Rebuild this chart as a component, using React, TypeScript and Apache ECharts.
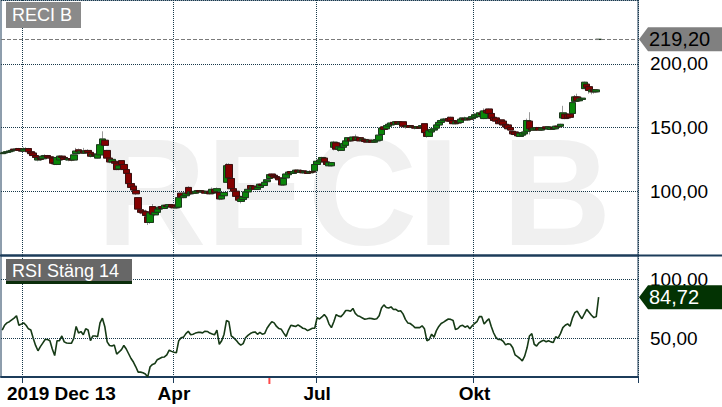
import React, { useEffect, useRef } from 'react';
import * as echarts from 'echarts';

// trading days start here; the axis keeps some empty slots on the right
const START_DATE = '2019-12-13';
const SLOT_COUNT = 267;
const HOLIDAYS = [
  '2019-12-24', '2019-12-25', '2019-12-26', '2019-12-31', '2020-01-01', '2020-01-06',
  '2020-04-10', '2020-04-13', '2020-05-01', '2020-05-21', '2020-06-19',
  '2020-12-24', '2020-12-25', '2020-12-31', '2021-01-01',
];
const QUARTER_MONTHS = ['01', '04', '07', '10'];
const MONTH_LABELS: Record<string, string> = { '04': 'Apr', '07': 'Jul', '10': 'Okt' };
const START_LABEL = '2019 Dec 13';
const EVENT_DATE = '2020-06-02';

const TICKER = 'RECI B';
const RSI_TITLE = 'RSI Stäng 14';
const PRICE_TICKS = [100, 150, 200];
const RSI_LEVELS = [50, 100];
const LAST_PRICE = 219.2;
const LAST_RSI = 84.72;

// [open, close, low, high]
const PRICE_OHLC: number[][] = [
  [129.5, 130, 128.5, 131], [130, 130.5, 129.5, 131.5], [130.5, 131, 130, 132], [131, 131.5, 130.5, 132.5],
  [131.5, 132, 131, 133], [133, 132.5, 131.5, 133.5], [132.5, 133, 132, 134], [133.5, 132, 131.5, 134],
  [132, 131.5, 131, 133], [131.5, 133, 131, 134.5], [133, 133.5, 132.5, 134.5], [133.5, 131, 130.5, 134],
  [131, 129.5, 128.5, 131.5], [130, 128, 127.5, 130.5], [128, 126.5, 125.5, 128.5], [124.5, 126, 123.5, 127.5],
  [126, 125, 124, 127.5], [125.5, 127.5, 125, 128.5], [127, 128, 126.5, 129], [128, 126.5, 126, 128.5],
  [127, 126, 125, 128], [126, 122, 121, 126.5], [122.5, 121.5, 120.5, 124], [121, 126.5, 120.5, 127],
  [124.5, 127.5, 124, 128], [127.5, 126.5, 125.5, 128], [126.5, 125, 124.5, 127], [125.5, 125, 124, 126.5],
  [124.5, 125.5, 123.5, 126], [125.5, 124.5, 123.5, 126], [124.5, 128.5, 124, 129], [129.5, 131.5, 129, 134],
  [132.5, 131, 130.5, 133.5], [130, 131.5, 129.5, 132], [131.5, 130, 129.5, 134], [130, 131.5, 129.5, 132.5],
  [132, 130.5, 128, 133], [130.5, 127.5, 126.5, 131], [127.5, 129, 127, 129.5], [129, 128, 127, 130],
  [126, 129, 125.5, 129.5], [128.5, 136.5, 128, 137.5], [137, 141, 136, 147], [140, 136, 135.5, 141],
  [132, 126, 125, 132.5], [126, 123, 122, 126.5], [123, 125, 122, 125.5], [123.5, 122, 121, 124],
  [122, 117, 116.5, 122.5], [117.5, 120, 116.5, 121], [124, 121, 120, 124.5], [121, 117, 116, 123],
  [117, 114, 113, 117.5], [114, 106, 105, 114.5], [106, 103, 101, 107], [104, 101, 100, 105],
  [100.5, 98, 97, 101], [95, 86, 85, 95.5], [85.5, 83.5, 82, 86.5], [84.5, 83, 81, 85],
  [84, 81, 80, 85.5], [80, 75.5, 73.5, 81], [75.5, 83, 74.5, 84], [88, 82, 81.5, 90],
  [81.5, 83.5, 80.5, 84.5], [83.5, 86, 83, 87], [86, 87.5, 85.5, 88], [88, 86.5, 85.5, 88.5],
  [86.5, 89, 86, 89.5], [89, 88, 87, 89.5], [88, 89.5, 87.5, 90], [89.5, 87.5, 86.5, 90],
  [88.5, 87, 86, 89], [87, 87.5, 86.5, 88.5], [87.5, 95, 87, 96], [98.5, 95.5, 94.5, 99],
  [95, 96.5, 94.5, 97], [96.5, 98.5, 96, 99], [103, 98, 97, 104], [98, 99.5, 97, 100.5],
  [99.5, 98.5, 98, 100], [98.5, 100, 98, 101], [99.5, 100.5, 99, 101], [100.5, 99.5, 99, 101],
  [99.5, 100, 98.5, 100.5], [100, 98.5, 98, 100.5], [98.5, 99.5, 98, 100.5], [99.5, 98, 97.5, 100],
  [98.5, 101.5, 98, 103], [101.5, 99, 98.5, 102], [100, 102, 99.5, 103], [99, 94, 93, 99.5],
  [94, 96.5, 93.5, 97], [96.5, 99, 96, 100], [107, 120, 106.5, 122], [121, 110.5, 110, 122],
  [110, 102, 101.5, 110.5], [102, 100, 99, 103], [100, 96, 95, 100.5], [96, 93, 91.5, 96.5],
  [92, 94, 90.5, 95], [93.5, 95.5, 93, 96], [95, 99.5, 94.5, 100], [99.5, 101.5, 99, 102],
  [104.5, 102, 101, 105], [102, 103.5, 101.5, 104], [104, 101.5, 101, 104.5], [101.5, 103, 101, 104],
  [103, 105.5, 102.5, 106], [105.5, 104.5, 104, 106.5], [104.5, 107, 104, 107.5], [107.5, 109, 107, 110],
  [110, 113, 109.5, 113.5], [113.5, 112, 111, 114], [112.5, 111, 110.5, 113], [111.5, 110.5, 110, 112],
  [110.5, 109, 108.5, 111.5], [109.5, 105, 104.5, 110], [105, 110, 104.5, 111], [110.5, 113.5, 110, 114],
  [113, 115, 112.5, 115.5], [115.5, 114, 113.5, 116], [114, 115.5, 113.5, 116], [115, 116.5, 114.5, 117],
  [116.5, 115, 114.5, 117], [115, 116, 114, 117], [116, 114.5, 114, 116.5], [114.5, 115.5, 113.5, 116],
  [115.5, 114, 113.5, 116], [114.5, 115.5, 113.5, 116.5], [115.5, 115, 114, 116], [116, 121, 115.5, 121.5],
  [121, 123.5, 120.5, 124], [123, 124.5, 122.5, 125], [125, 126.5, 124.5, 127], [126, 123, 122.5, 126.5],
  [123, 121, 120.5, 123.5], [120, 122.5, 119.5, 123], [120, 122.5, 119.5, 123], [134.5, 138.5, 132, 139.5],
  [138, 133, 132.5, 138.5], [133, 135, 131, 135.5], [132, 134.5, 131.5, 135], [134.5, 137.5, 134, 138],
  [136, 139.5, 135.5, 140], [139.5, 142, 138.5, 142.5], [141.5, 139.5, 139, 142.5], [140, 142.5, 139.5, 143],
  [142.5, 140, 139.5, 144.5], [140.5, 142, 140, 142.5], [142, 139.5, 139, 142.5], [140, 141, 139.5, 141.5],
  [140.5, 139, 138.5, 141], [139.5, 138.5, 138, 140], [139, 140, 138.5, 140.5], [140, 138.5, 138, 140.5],
  [138.5, 139.5, 138, 140], [139.5, 140.5, 139, 141], [140, 144, 139.5, 144.5], [144.5, 149.5, 144, 151],
  [150.5, 148.5, 148, 152], [149, 151.5, 148.5, 152], [151, 152.5, 150.5, 153], [152, 153.5, 151.5, 154.5],
  [154, 152.5, 152, 155], [152.5, 154.5, 152, 155], [154.5, 153, 152, 155], [153, 154, 152, 154.5],
  [154.5, 151, 150.5, 155], [151.5, 150.5, 149, 152], [150.5, 151.5, 150, 152], [151.5, 150, 149.5, 152],
  [150, 150.5, 149, 151], [150.5, 149.5, 148.5, 151], [149.5, 150.5, 149, 151], [150.5, 149.5, 149, 151],
  [150.5, 151.5, 148, 153], [153, 146, 145.5, 153.5], [146, 143, 142, 146.5], [143, 147.5, 142.5, 148],
  [146.5, 148.5, 146, 149], [148, 149, 147.5, 149.5], [149.5, 152, 149, 152.5], [152, 154, 151.5, 154.5],
  [154, 155.5, 153.5, 156.5], [155.5, 156.5, 155, 157.5], [156, 156.5, 155.5, 157.5], [157, 155, 154.5, 158.5],
  [158, 155, 154.5, 158.5], [155.5, 153, 152.5, 156], [153, 154.5, 152.5, 155], [154.5, 153.5, 152.5, 155.5],
  [154, 156.5, 153.5, 157], [156, 157.5, 155.5, 158], [157, 156, 155.5, 158.5], [156, 157.5, 155.5, 158],
  [157, 156.5, 155.5, 159], [157, 158.5, 156.5, 159], [158, 160, 157.5, 161], [159, 160.5, 158.5, 162],
  [158.5, 161.5, 158, 163], [161, 160, 159, 162.5], [157, 163, 156.5, 165], [163.5, 161.5, 161, 164.5],
  [164.5, 161, 160.5, 165], [161, 157, 156.5, 161.5], [158, 155.5, 155, 158.5], [157.5, 155, 154.5, 158],
  [155.5, 153, 152.5, 156], [156, 153.5, 153, 156.5], [155, 152, 151.5, 155.5], [152.5, 150.5, 150, 153],
  [152, 149, 148.5, 152.5], [150, 148, 147.5, 150.5], [147, 145, 144, 147.5], [146.5, 144.5, 143.5, 147],
  [145.5, 143.5, 143, 146], [143, 145.5, 142.5, 146], [144, 146, 143.5, 146.5], [145, 146.5, 144, 147],
  [147, 155.5, 146.5, 157], [155, 149, 144.5, 162], [149.5, 148, 147.5, 151], [148, 149.5, 147.5, 150],
  [148.5, 150, 148, 150.5], [150, 148, 147.5, 150.5], [148, 149.5, 147.5, 150], [149, 150, 148.5, 150.5],
  [150.5, 149, 148.5, 151], [149, 150.5, 148.5, 151], [148.5, 150, 148, 150.5], [150, 149, 148.5, 150.5],
  [149, 151, 148.5, 151.5], [151, 150.5, 150, 152], [151, 152.5, 150.5, 153], [157.5, 161.5, 157, 167],
  [160.5, 157, 156.5, 161], [160, 157.5, 157, 161], [160.5, 158, 157.5, 161], [161, 169.5, 160.5, 170.5],
  [170.5, 174, 170, 175.5], [174, 171, 170.5, 176.5], [171, 172.5, 170, 173], [172, 173, 171.5, 174],
  [180.5, 185.5, 180, 186], [184, 181.5, 180.5, 184.5], [182, 179, 176.5, 182.5], [178, 179.5, 176, 180],
  [179.5, 178, 176.5, 180], [178, 179.5, 177, 180], [219, 219.2, 219, 219.4],
];

const RSI_14: number[] = [
  57, 61, 63, 64, 65.5, 67, 69, 61, 62, 63, 61, 58, 57, 50, 44, 39.5, 43, 46, 49, 49,
  48, 41, 35.5, 48, 48, 52, 47, 46, 45.8, 45.8, 50, 60, 54.5, 55.7, 53, 58, 57, 48, 52, 52,
  51.4, 63, 67, 60, 47, 44, 43.5, 44.3, 36.7, 38.5, 40.5, 44, 41, 37, 33, 30, 26, 21.5, 21.5, 21,
  20, 17.5, 26, 28, 28.8, 32, 33, 34, 34.3, 36, 40, 39, 38.2, 37.8, 48, 50.5, 51, 54, 56, 53,
  53.5, 54.4, 55, 55, 54.6, 56, 55.8, 54.4, 53.7, 53, 57, 45, 48, 53.5, 65, 64, 52, 50.5, 48.5, 46,
  44.3, 45.5, 50.5, 52.5, 54, 55, 55.4, 53.4, 55, 53.5, 54, 58.5, 61.5, 64, 63, 60, 58.2, 57.6, 54.4, 51.5,
  57, 61, 60.5, 60, 61.3, 60, 58.5, 58, 56.5, 57.5, 58.5, 58.5, 67.5, 66.3, 68, 70, 67.5, 62, 59, 64,
  70, 68.7, 68.3, 70.5, 73.5, 73.4, 72.8, 75.2, 71, 69, 68.3, 67.2, 66.1, 66.5, 67, 66.6, 66.1, 66.5, 69, 75.5,
  78.2, 76, 75.5, 76.5, 74.3, 74.5, 72.9, 73.3, 70.6, 66, 63, 62.5, 61, 59, 59, 59, 60.5, 58, 48, 49,
  53.5, 51, 56.5, 60, 62.5, 63.7, 65, 66.3, 66, 65, 57.5, 58.3, 60.4, 61, 59.4, 60.5, 58, 60.5, 62.5, 64,
  68.3, 68.3, 62, 64.5, 66.5, 60, 54.5, 50.5, 49, 49, 47.5, 44.5, 45.5, 45, 42, 36, 34.5, 33, 31, 35,
  42, 52, 54, 45, 43.5, 46.2, 47.5, 48.3, 47.1, 48, 47, 46.5, 51.3, 50.2, 54, 59, 61, 62.2, 60.2, 67,
  71.6, 73, 69.5, 66.5, 70.5, 74.4, 72, 69.5, 67.5, 68.3, 84.72,
];

const NAVY = '#1c3c5a';
const GRID_DOT = '#17384a';
const FONT = 'Liberation Sans';

const buildDays = (): string[] => {
  const out: string[] = [];
  const d = new Date(START_DATE + 'T12:00:00Z');
  while (out.length < SLOT_COUNT) {
    const s = d.toISOString().slice(0, 10);
    const wd = d.getUTCDay();
    if (wd !== 0 && wd !== 6 && !HOLIDAYS.includes(s)) out.push(s);
    d.setUTCDate(d.getUTCDate() + 1);
  }
  return out;
};

const fmt = (v: number) => v.toFixed(2).replace('.', ',');

const App: React.FC = () => {
  const chartRef = useRef<HTMLDivElement>(null);

  useEffect(() => {
    if (!chartRef.current) return;
    document.body.style.margin = '0';
    const chart = echarts.init(chartRef.current, undefined, { renderer: 'svg' });

    const days = buildDays();
    const month = (i: number) => days[i].slice(5, 7);
    // quarter gridlines only inside the traded range
    const isQuarter = (i: number) =>
      i > 0 && i < PRICE_OHLC.length && month(i) !== month(i - 1) && QUARTER_MONTHS.includes(month(i));
    const bodies = PRICE_OHLC.map(([o, c]) => [o, c, Math.min(o, c), Math.max(o, c)]);

    const dotted = { color: GRID_DOT, type: [1, 1] as number[], width: 1 };

    const xBase = {
      type: 'category' as const,
      data: days,
      boundaryGap: true,
      splitLine: { show: true, interval: (i: number) => isQuarter(i), lineStyle: dotted },
    };

    chart.setOption({
      animation: false,
      textStyle: { fontFamily: FONT },
      grid: [
        { left: 1, right: 84, top: -9, height: 264, show: true, borderColor: NAVY, borderWidth: 1 },
        { left: 1, right: 84, top: 256, height: 121, show: true, borderColor: NAVY, borderWidth: 1 },
      ],
      xAxis: [
        { ...xBase, gridIndex: 0, axisLine: { show: false }, axisTick: { show: false }, axisLabel: { show: false } },
        {
          ...xBase,
          gridIndex: 1,
          axisLine: { show: true, lineStyle: { color: NAVY, width: 2 } },
          axisTick: { show: true, interval: (i: number) => isQuarter(i), length: 6, lineStyle: { color: NAVY } },
          axisLabel: {
            show: true,
            interval: (i: number) => isQuarter(i) && !!MONTH_LABELS[month(i)],
            formatter: (v: string) => MONTH_LABELS[v.slice(5, 7)] || '',
            color: '#000',
            fontSize: 19,
            fontWeight: 'bold',
            margin: 7,
          },
        },
      ],
      yAxis: [
        {
          type: 'value',
          gridIndex: 0,
          position: 'right',
          min: 50,
          max: 250,
          interval: 50,
          axisLine: { show: false },
          axisTick: { show: false },
          axisLabel: {
            color: '#000',
            fontSize: 19,
            margin: 12,
            formatter: (v: number) => (PRICE_TICKS.includes(v) ? fmt(v) : ''),
          },
          splitLine: { show: true, lineStyle: dotted },
        },
        {
          type: 'value',
          gridIndex: 1,
          position: 'right',
          min: 17.4,
          max: 119.4,
          axisLine: { show: false },
          axisTick: { show: false },
          axisLabel: { show: false },
          splitLine: { show: false },
        },
      ],
      series: [
        {
          name: 'wick',
          type: 'candlestick',
          xAxisIndex: 0,
          yAxisIndex: 0,
          data: PRICE_OHLC,
          barWidth: 7,
          itemStyle: { color: 'transparent', color0: 'transparent', borderColor: '#9a9a9a', borderColor0: '#9a9a9a', borderWidth: 1 },
          markLine: {
            silent: true,
            symbol: 'none',
            label: { show: false },
            lineStyle: { color: '#7a7a7a', type: [4, 2], width: 1 },
            data: [{ yAxis: LAST_PRICE }],
          },
        },
        {
          name: TICKER,
          type: 'candlestick',
          xAxisIndex: 0,
          yAxisIndex: 0,
          data: bodies,
          barWidth: 7,
          itemStyle: { color: '#0a870a', color0: '#830000', borderColor: '#1c3a1c', borderColor0: '#3a1010', borderWidth: 1 },
        },
        {
          name: RSI_TITLE,
          type: 'line',
          xAxisIndex: 1,
          yAxisIndex: 1,
          data: RSI_14,
          symbol: 'none',
          lineStyle: { color: '#163a16', width: 1.6 },
          markLine: {
            silent: true,
            symbol: 'none',
            lineStyle: dotted,
            label: { show: true, position: 'end', distance: 12, color: '#000', fontSize: 19, formatter: (p: any) => fmt(p.value) },
            data: RSI_LEVELS.map((v) => ({ yAxis: v })),
          },
        },
      ],
    });

    const priceY = chart.convertToPixel({ yAxisIndex: 0 }, LAST_PRICE) as number;
    const rsiY = chart.convertToPixel({ yAxisIndex: 1 }, LAST_RSI) as number;
    const eventX = chart.convertToPixel({ xAxisIndex: 1 }, EVENT_DATE) as number;
    const axisY = chart.convertToPixel({ yAxisIndex: 1 }, 17.4) as number;

    const tag = (y: number, fill: string, textFill: string, text: string) => [
      {
        type: 'polygon',
        z: 100,
        shape: { points: [[639, y], [648, y - 12], [722, y - 12], [722, y + 12], [648, y + 12]] },
        style: { fill },
      },
      {
        type: 'text',
        z: 101,
        x: 649,
        y,
        style: { text, fill: textFill, fontSize: 20, fontFamily: FONT, verticalAlign: 'middle', textVerticalAlign: 'middle' },
      },
    ];

    chart.setOption({
      graphic: [
        {
          type: 'text',
          z: -1,
          x: 354,
          y: 192,
          silent: true,
          style: {
            text: TICKER,
            fill: '#f0f0f0',
            fontSize: 152,
            lineHeight: 118,
            fontWeight: 'bold',
            fontFamily: FONT,
            align: 'center',
            textAlign: 'center',
            verticalAlign: 'middle',
            textVerticalAlign: 'middle',
          },
        },
        { type: 'rect', z: 100, shape: { x: 6, y: 2, width: 75, height: 26 }, style: { fill: '#8a8a8a' } },
        {
          type: 'text', z: 101, x: 12, y: 15,
          style: { text: TICKER, fill: '#fff', fontSize: 18, fontFamily: FONT, verticalAlign: 'middle', textVerticalAlign: 'middle' },
        },
        { type: 'rect', z: 100, shape: { x: 6, y: 259, width: 126, height: 23 }, style: { fill: '#676767' } },
        { type: 'rect', z: 100, shape: { x: 6, y: 281, width: 126, height: 3 }, style: { fill: '#0c2e0c' } },
        {
          type: 'text', z: 101, x: 12, y: 271,
          style: { text: RSI_TITLE, fill: '#fff', fontSize: 18, fontFamily: FONT, verticalAlign: 'middle', textVerticalAlign: 'middle' },
        },
        { type: 'line', z: 100, shape: { x1: 0, y1: 255.5, x2: 722, y2: 255.5 }, style: { stroke: NAVY, lineWidth: 2 } },
        { type: 'rect', z: 100, shape: { x: eventX - 1, y: axisY + 1, width: 2, height: 6 }, style: { fill: '#ff4a4a' } },
        {
          type: 'text', z: 101, x: 7, y: axisY + 16,
          style: { text: START_LABEL, fill: '#000', fontSize: 19, fontWeight: 'bold', fontFamily: FONT, verticalAlign: 'middle', textVerticalAlign: 'middle' },
        },
        ...tag(priceY, '#808080', '#000', fmt(LAST_PRICE)),
        ...tag(rsiY, '#033303', '#fff', fmt(LAST_RSI)),
      ],
    });

    return () => {
      chart.dispose();
    };
  }, []);

  return <div ref={chartRef} style={{ width: '722px', height: '407px' }} />;
};

export default App;
